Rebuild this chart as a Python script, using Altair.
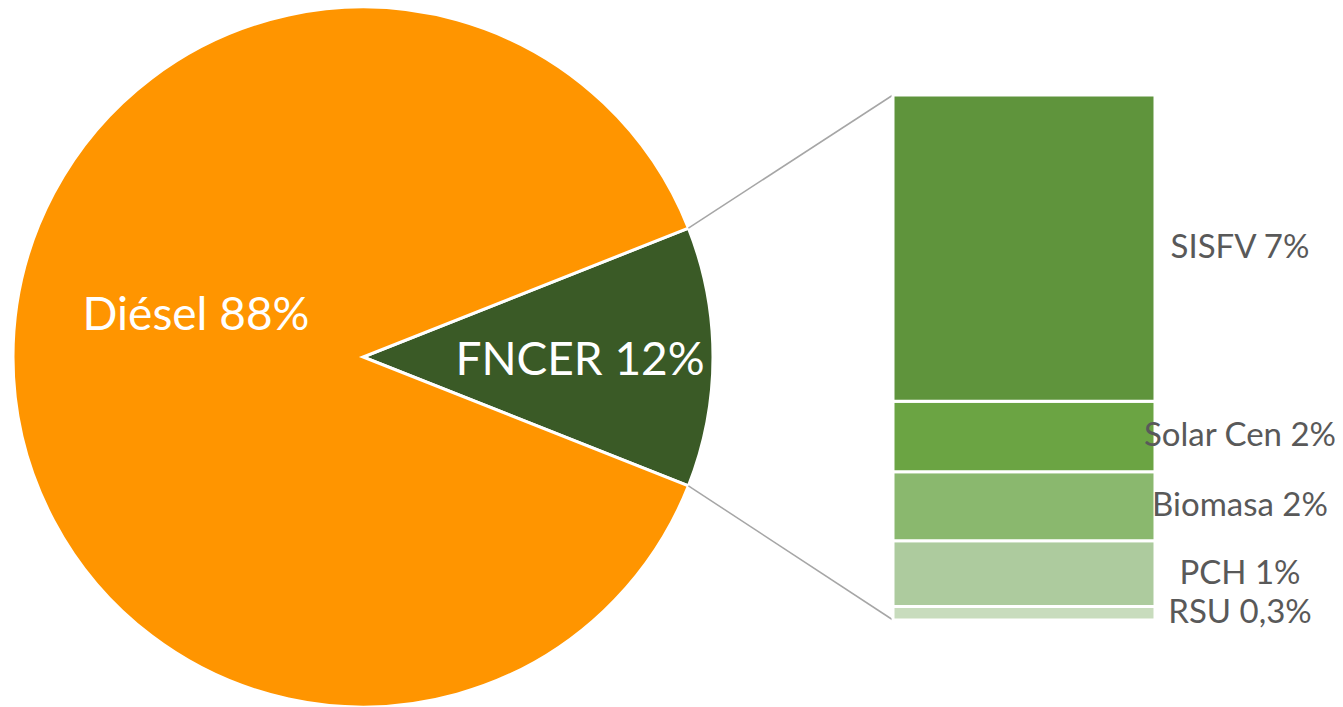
import math
import altair as alt
import pandas as pd

# ---- data ----
pie_names = ["FNCER", "Diésel"]
pie_labels = ["FNCER 12%", "Diésel 88%"]
bar_names = ["SISFV", "Solar Cen", "Biomasa", "PCH", "RSU"]
bar_values = [7.0, 1.61, 1.58, 1.50, 0.31]
bar_labels = ["SISFV 7%", "Solar Cen 2%", "Biomasa 2%", "PCH 1%", "RSU 0,3%"]
diesel_value = 88.0

all_names = pie_names + bar_names
all_colors = ["#3A5A26", "#FF9500", "#5F943C", "#6BA443", "#8AB86E", "#ADCB9E", "#C8DCBD"]

W, H = 1327, 699
CX, CY, R = 355, 349, 350
BX0, BX1, BTOP, BBOT = 885, 1147, 87, 612

fncer_value = sum(bar_values)
pie_values = [fncer_value, diesel_value]
total = sum(pie_values)
frac = fncer_value / total
start = math.pi / 2 - frac * math.pi

pie_df = pd.DataFrame({"name": pie_names, "value": pie_values, "order": [0, 1]})

# bar stack (bottom = last item)
rows = []
acc = 0.0
for n, v, lab in reversed(list(zip(bar_names, bar_values, bar_labels))):
    rows.append({"name": n, "y0": acc, "y1": acc + v, "mid": acc + v / 2, "label": lab})
    acc += v
bar_df = pd.DataFrame(rows)

# connector lines from pie slice edges to bar corners
half = frac * math.pi
conn_df = pd.DataFrame({
    "x": [CX + R * math.cos(half), CX + R * math.cos(half)],
    "y": [CY - R * math.sin(half), CY + R * math.sin(half)],
    "x2": [BX0, BX0],
    "y2": [BTOP, BBOT],
})

color = alt.Color("name:N", scale=alt.Scale(domain=all_names, range=all_colors), legend=None)

pie = alt.Chart(pie_df).mark_arc(radius=R, stroke="white", strokeWidth=3).encode(
    theta=alt.Theta("value:Q", stack=True,
                    scale=alt.Scale(domain=[0, total], range=[start, start + 2 * math.pi])),
    order=alt.Order("order:Q"),
    color=color,
    x=alt.value(CX),
    y=alt.value(CY),
)

yscale = alt.Scale(domain=[0, fncer_value], range=[BBOT, BTOP])

bars = alt.Chart(bar_df).mark_rect(stroke="white", strokeWidth=3).encode(
    x=alt.value(BX0),
    x2=alt.value(BX1),
    y=alt.Y("y0:Q", scale=yscale, axis=None),
    y2="y1:Q",
    color=color,
)

bar_text = alt.Chart(bar_df).mark_text(
    font="Lato", fontSize=33, color="#595959", align="center", baseline="middle"
).encode(
    x=alt.value(1232),
    y=alt.Y("mid:Q", scale=yscale, axis=None),
    text="label:N",
)

conn = alt.Chart(conn_df).mark_rule(color="#A6A6A6", strokeWidth=1.5).encode(
    x=alt.X("x:Q", scale=None, axis=None),
    y=alt.Y("y:Q", scale=None, axis=None),
    x2="x2:Q",
    y2="y2:Q",
)

lab_df = pd.DataFrame({"label": pie_labels, "px": [572, 188], "py": [353, 308]})
pie_text = alt.Chart(lab_df).mark_text(
    font="Lato", fontSize=46, color="white", align="center", baseline="middle"
).encode(
    x=alt.X("px:Q", scale=None, axis=None),
    y=alt.Y("py:Q", scale=None, axis=None),
    text="label:N",
)

chart = alt.layer(pie, conn, bars, bar_text, pie_text).resolve_scale(
    x="independent", y="independent"
).properties(
    width=W, height=H, autosize=alt.AutoSizeParams(type="none"), padding=0
).configure_view(stroke=None)

chart.save("out.html", embed_options={"renderer": "svg", "actions": False})
